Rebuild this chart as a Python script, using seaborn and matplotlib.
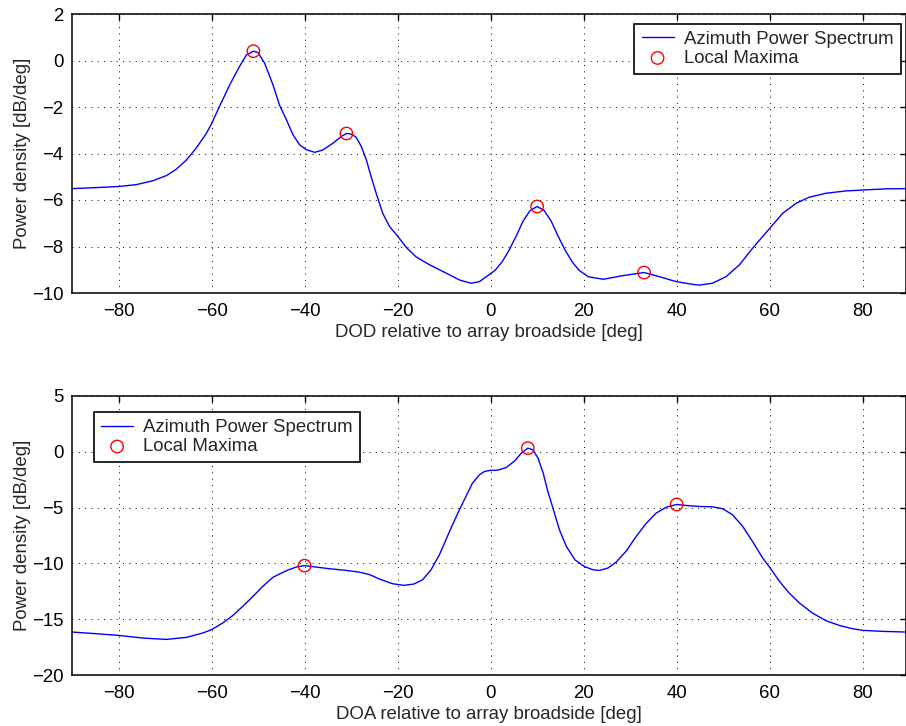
import matplotlib
matplotlib.use("Agg")
import matplotlib.pyplot as plt
import pandas as pd
import seaborn as sns

# Departure-side azimuth power spectrum (DOD)
dod_deg = [-90, -86.2, -80, -76.2, -72.6, -69.7, -67.6, -65.4, -63.3, -61.1, -60, -58.3,
           -56.1, -54, -52.5, -51, -50, -48.6, -46.8, -45.4, -43.9, -42.5, -41.1, -39.6,
           -37.8, -36.1, -33.9, -32.1, -31, -30, -28.9, -27.8, -26.7, -25.7, -24.6, -23.2,
           -21.7, -20, -18.1, -16, -13.1, -9.5, -6.7, -4.2, -2.4, -0.6, 1, 2.5, 4, 5.5,
           7, 8.5, 10, 11.5, 13, 14.5, 16, 17.5, 19, 21, 24.2, 28.5, 33, 36.3, 39.9,
           43.5, 44.9, 47.7, 50.6, 53.5, 56.3, 60, 62.8, 65.7, 68.5, 72.1, 76.4, 80, 85,
           89.2]
dod_psd = [-5.51, -5.48, -5.42, -5.34, -5.17, -4.95, -4.68, -4.28, -3.77, -3.13, -2.72,
           -1.98, -1.05, -0.26, 0.24, 0.40, 0.34, -0.11, -1.04, -1.91, -2.55, -3.19, -3.62,
           -3.84, -3.95, -3.85, -3.56, -3.27, -3.14, -3.16, -3.30, -3.70, -4.28, -4.99,
           -5.71, -6.57, -7.15, -7.55, -8.05, -8.45, -8.79, -9.15, -9.44, -9.58, -9.51,
           -9.25, -9.02, -8.65, -8.15, -7.55, -6.90, -6.45, -6.28, -6.45, -6.90, -7.55,
           -8.15, -8.65, -9.02, -9.30, -9.41, -9.25, -9.12, -9.30, -9.51, -9.63, -9.66,
           -9.58, -9.30, -8.79, -8.08, -7.22, -6.57, -6.14, -5.88, -5.71, -5.61, -5.57,
           -5.52, -5.51]
dod_peak_deg = [-51, -31, 10, 33]
dod_peak_psd = [0.40, -3.14, -6.28, -9.12]

# Arrival-side azimuth power spectrum (DOA)
doa_deg = [-90, -84.8, -80, -74.8, -69.7, -65.4, -61.9, -60, -57.6, -55.4, -53.3, -51.1,
           -49, -46.8, -45.4, -43.6, -41.8, -40, -37.5, -34.6, -31, -28.2, -26, -23.9,
           -21.1, -18.6, -16.5, -14.6, -12.8, -11, -9.6, -8.2, -6.7, -5.3, -3.9, -2.4,
           -1.3, -0.2, 1.6, 3.4, 5.2, 6.6, 8, 9.1, 10.2, 11.3, 12.3, 13.4, 14.8, 16.3,
           18.1, 20.1, 22, 23.4, 25.2, 27, 29.2, 31.3, 33.5, 35.6, 37.8, 40, 42.8, 44.9,
           47.7, 49.9, 52, 54.2, 56.3, 58.5, 60, 62.1, 64.2, 66.4, 69.2, 72.1, 74.9, 77.8,
           80, 84.3, 89.2]
doa_psd = [-16.15, -16.30, -16.45, -16.69, -16.81, -16.63, -16.24, -15.94, -15.34,
           -14.66, -13.85, -12.96, -12.06, -11.25, -10.95, -10.60, -10.33, -10.20, -10.33,
           -10.48, -10.63, -10.78, -11.01, -11.40, -11.82, -11.97, -11.85, -11.46, -10.57,
           -9.22, -7.88, -6.54, -5.19, -4.00, -2.81, -2.06, -1.76, -1.67, -1.64, -1.40,
           -0.81, -0.12, 0.33, 0.18, -0.57, -1.91, -3.55, -5.04, -6.99, -8.48, -9.67,
           -10.27, -10.57, -10.63, -10.42, -9.88, -8.87, -7.58, -6.39, -5.49, -4.96,
           -4.72, -4.84, -4.90, -4.93, -5.10, -5.64, -6.69, -8.03, -9.52, -10.35, -11.61,
           -12.66, -13.55, -14.45, -15.13, -15.55, -15.85, -16.00, -16.09, -16.15]
doa_peak_deg = [-40, 8, 40]
doa_peak_psd = [-10.20, 0.33, -4.72]

x_ticks = [-80, -60, -40, -20, 0, 20, 40, 60, 80]
dod_yticks = [-10, -8, -6, -4, -2, 0, 2]
doa_yticks = [-20, -15, -10, -5, 0, 5]

sns.set_style("white")
plt.rcParams["font.family"] = ["Liberation Sans", "DejaVu Sans"]
plt.rcParams["axes.unicode_minus"] = True

FS = 13.4
fig = plt.figure(figsize=(9.06, 7.26), dpi=100)
ax_top = fig.add_axes([72 / 906, 1 - 293 / 726, 833.5 / 906, 279 / 726])
ax_bot = fig.add_axes([72 / 906, 1 - 675 / 726, 833.5 / 906, 279 / 726])


def draw_panel(ax, deg, psd, pk_deg, pk_psd, yticks, xlabel, legend_kw):
    curve = pd.DataFrame({"deg": deg, "psd": psd})
    peaks = pd.DataFrame({"deg": pk_deg, "psd": pk_psd})
    sns.lineplot(data=curve, x="deg", y="psd", ax=ax, color=(0, 0, 1), lw=1.0,
                 estimator=None, label="Azimuth Power Spectrum")
    sns.scatterplot(data=peaks, x="deg", y="psd", ax=ax, marker="o", s=80,
                    facecolor="none", edgecolor=(1, 0, 0), linewidth=1.0,
                    label="Local Maxima", zorder=3)
    ax.set_xlim(-90, 89.2)
    ax.set_ylim(yticks[0], yticks[-1])
    ax.set_xticks(x_ticks)
    ax.set_yticks(yticks)
    ax.grid(True, color="black", linestyle=(0, (1, 5.5)), linewidth=0.7)
    ax.tick_params(direction="in", length=4.5, width=1.0, top=True, right=True,
                   labelsize=FS, colors="black")
    ax.tick_params(axis="x", pad=7)
    ax.tick_params(axis="y", pad=6)
    for sp in ax.spines.values():
        sp.set_visible(True)
        sp.set_color("black")
        sp.set_linewidth(1.1)
    ax.set_xlabel(xlabel, fontsize=FS, labelpad=3)
    ax.set_ylabel("Power density [dB/deg]", fontsize=FS, labelpad=1)
    leg = ax.legend(fontsize=FS, frameon=True, fancybox=False, framealpha=1,
                    edgecolor="black", handlelength=1.72, handletextpad=0.55,
                    borderpad=0.38, labelspacing=0.12, borderaxespad=0,
                    scatterpoints=1, **legend_kw)
    leg.get_frame().set_linewidth(1.2)


draw_panel(ax_top, dod_deg, dod_psd, dod_peak_deg, dod_peak_psd, dod_yticks,
           "DOD relative to array broadside [deg]",
           dict(loc="upper right", bbox_to_anchor=(1 - 5 / 833.5, 1 - 9.5 / 279)))
draw_panel(ax_bot, doa_deg, doa_psd, doa_peak_deg, doa_peak_psd, doa_yticks,
           "DOA relative to array broadside [deg]",
           dict(loc="upper left", bbox_to_anchor=(22 / 833.5, 1 - 16 / 279)))

fig.savefig("out.png", dpi=100)
